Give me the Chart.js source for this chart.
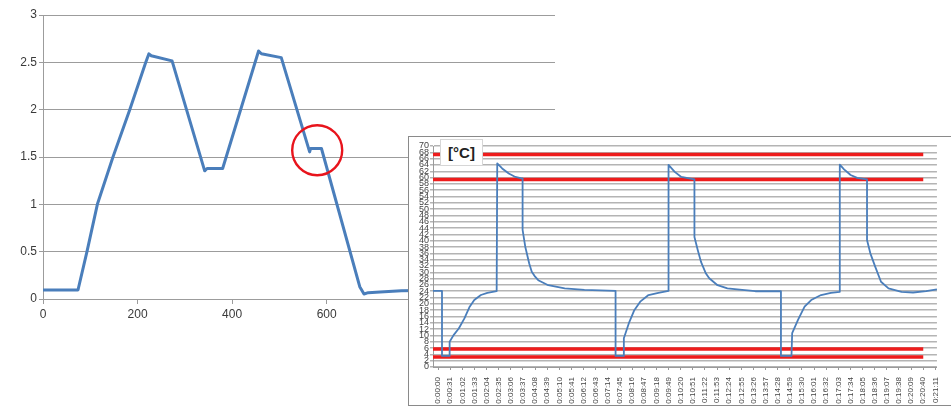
<!DOCTYPE html>
<html>
<head>
<meta charset="utf-8">
<script src="https://cdn.jsdelivr.net/npm/chart.js@4/dist/chart.umd.min.js"></script>
<style>
  html, body { margin: 0; padding: 0; background: #fff; width: 951px; height: 413px; overflow: hidden; }
  #main { position: absolute; left: 0; top: 0; }
  #inset { position: absolute; left: 408px; top: 136px; width: 560px; height: 268px;
           border: 1px solid #8a8a8a; background: #fff; }
  #insetCanvas { position: absolute; left: 0; top: 0; }
  #unit { position: absolute; left: 31px; top: 2px; width: 41px; height: 25px;
          border: 1px solid #d6d6d6; background: #fff; color: #222;
          font: bold 15px "Liberation Sans", Arial, sans-serif; line-height: 25px; text-align: center; }
</style>
</head>
<body>
<canvas id="main" width="951" height="340"></canvas>
<div id="inset">
  <canvas id="insetCanvas" width="543" height="268"></canvas>
  <div id="unit">[°C]</div>
</div>
<script>
// ---- main curve ----
const leftX = [0, 74, 93, 115, 148, 183.5, 217.4, 224, 229, 273, 342, 347, 380, 456, 462, 504, 564, 566, 589, 670, 679, 688, 713, 758, 800];
const leftY = [0.095, 0.095, 0.5, 1.0, 1.5, 2.0, 2.5, 2.59, 2.57, 2.515, 1.354, 1.379, 1.379, 2.62, 2.59, 2.55, 1.554, 1.59, 1.59, 0.13, 0.053, 0.067, 0.074, 0.088, 0.09];
const leftXTicks = [0, 200, 400, 600, 800, 1000];
// highlighted step (circle marker)
const circleX = [580];
const circleY = [1.572];

// ---- temperature record ----
const insetT = [
  -13, 10, 10, 29.5, 29.5, 39.6, 52.9, 67.3, 79.9, 92.5, 109.4, 126, 149.7,
  151.2, 163.8, 180.7, 197.6, 216, 216, 222.8, 232.9, 239.4, 248, 256, 281.5, 323.6, 374, 453.6,
  453.6, 473, 474.8, 487.4, 501.5, 516.6, 537.8, 563, 589,
  589, 604.8, 621.7, 655.2, 655.2, 663.8, 672, 684.6, 693, 714.2, 739.4, 777.2, 810.7, 876.3,
  876.3, 903.2, 905, 919.9, 936.7, 953.6, 978.8, 1004, 1026.7,
  1026.7, 1037.6, 1054.4, 1071, 1096.3, 1096.3, 1104.8, 1117.4, 1132, 1151.2, 1184.5, 1214, 1247.5, 1275
];
const insetV = [
  24.1, 24.1, 3.5, 3.5, 8.0, 10.1, 12.2, 15.4, 18.9, 21.2, 22.8, 23.5, 24.0,
  64.5, 62.9, 61.3, 60.2, 59.7, 43.4, 38.1, 32.8, 30.2, 28.6, 27.5, 25.9, 24.9, 24.4, 24.1,
  3.5, 3.5, 9.1, 13.8, 18.0, 20.7, 22.8, 23.5, 24.1,
  64.0, 61.8, 60.2, 59.4, 41.2, 37, 33.3, 29.6, 28.1, 25.9, 24.9, 24.4, 24.0, 24.0,
  3.5, 3.5, 10.7, 14.9, 19.1, 21.2, 22.8, 23.5, 23.8,
  64.1, 62.6, 60.8, 59.9, 59.4, 40.2, 36, 31.7, 27, 24.9, 23.8, 23.6, 24.0, 24.6
];
// limit lines (°C) and their time span (s)
const limitLevels = [67.3, 59.4, 5.7, 3.2];
const limitSpan = [-13, 1240];
const insetTickLabels = [
  '0:00:00','0:00:31','0:01:02','0:01:33','0:02:04','0:02:35','0:03:06','0:03:37','0:04:08','0:04:39',
  '0:05:10','0:05:41','0:06:12','0:06:43','0:07:14','0:07:45','0:08:16','0:08:47','0:09:18','0:09:49',
  '0:10:20','0:10:51','0:11:22','0:11:53','0:12:24','0:12:55','0:13:26','0:13:57','0:14:28','0:14:59',
  '0:15:30','0:16:01','0:16:32','0:17:03','0:17:34','0:18:05','0:18:36','0:19:07','0:19:38','0:20:09',
  '0:20:40','0:21:11'
];

const toSeconds = s => s.split(':').reduce((a, p) => a * 60 + Number(p), 0);
const pairs = (xs, ys) => xs.map((x, i) => ({ x, y: ys[i] }));

const BLUE = '#4a7ebb';
const RED = '#ee1c1c';
const GRID = '#9c9c9c';
const FONT = '"Liberation Sans", Arial, sans-serif';

new Chart(document.getElementById('main'), {
  type: 'scatter',
  data: {
    datasets: [
      {
        data: pairs(circleX, circleY),
        showLine: false,
        pointStyle: 'circle',
        pointRadius: 25,
        pointHoverRadius: 25,
        pointBorderWidth: 2.4,
        pointBorderColor: '#e8141c',
        pointBackgroundColor: 'rgba(0,0,0,0)'
      },
      {
        data: pairs(leftX, leftY),
        showLine: true,
        borderColor: BLUE,
        borderWidth: 3,
        borderJoinStyle: 'round',
        borderCapStyle: 'round',
        pointRadius: 0,
        tension: 0
      }
    ]
  },
  options: {
    responsive: false,
    animation: false,
    devicePixelRatio: 1,
    layout: { autoPadding: false, padding: { top: 15, right: 396, left: 0, bottom: 0 } },
    plugins: { legend: { display: false }, tooltip: { enabled: false } },
    scales: {
      x: {
        type: 'linear',
        min: 0,
        max: 1083,
        afterFit: s => { s.height = 41; },
        afterBuildTicks: s => { s.ticks = leftXTicks.map(v => ({ value: v })); },
        grid: { drawOnChartArea: false, tickLength: 5, color: GRID },
        border: { display: true, color: GRID },
        ticks: { color: '#3a3a3a', font: { family: FONT, size: 12 }, padding: 3, maxRotation: 0, autoSkip: false }
      },
      y: {
        min: 0,
        max: 3,
        afterFit: s => { s.width = 43; },
        ticks: { stepSize: 0.5, callback: v => String(v), color: '#3a3a3a', font: { family: FONT, size: 12 }, padding: 2 },
        grid: { color: GRID, tickLength: 4 },
        border: { display: true, color: GRID }
      }
    }
  }
});

const limitSets = limitLevels.map(level => ({
  data: pairs(limitSpan, limitSpan.map(() => level)),
  showLine: true,
  borderColor: RED,
  borderWidth: 3.5,
  pointRadius: 0
}));

new Chart(document.getElementById('insetCanvas'), {
  type: 'scatter',
  data: {
    datasets: [
      {
        data: pairs(insetT, insetV),
        showLine: true,
        borderColor: BLUE,
        borderWidth: 1.8,
        borderJoinStyle: 'round',
        pointRadius: 0,
        tension: 0
      },
      ...limitSets
    ]
  },
  options: {
    responsive: false,
    animation: false,
    devicePixelRatio: 1,
    layout: { autoPadding: false, padding: { top: 9, right: 8, left: 0, bottom: 0 } },
    plugins: { legend: { display: false }, tooltip: { enabled: false } },
    scales: {
      x: {
        type: 'linear',
        min: -13,
        max: 1275,
        afterFit: s => { s.height = 38; },
        afterBuildTicks: s => { s.ticks = insetTickLabels.map(l => ({ value: toSeconds(l) })); },
        grid: { drawOnChartArea: false, tickLength: 3, color: '#9a9a9a' },
        border: { display: true, color: '#9a9a9a' },
        ticks: {
          callback: (v, i) => insetTickLabels[i],
          color: '#444', font: { family: FONT, size: 8 },
          minRotation: 90, maxRotation: 90, autoSkip: false, padding: 7
        }
      },
      y: {
        min: 0,
        max: 70,
        afterFit: s => { s.width = 24; },
        ticks: { stepSize: 2, autoSkip: false, color: '#444', font: { family: FONT, size: 9 }, padding: 1 },
        grid: { color: '#b4b4b4', lineWidth: 1.5, tickLength: 3 },
        border: { display: true, color: '#9a9a9a' }
      }
    }
  }
});
</script>
</body>
</html>
